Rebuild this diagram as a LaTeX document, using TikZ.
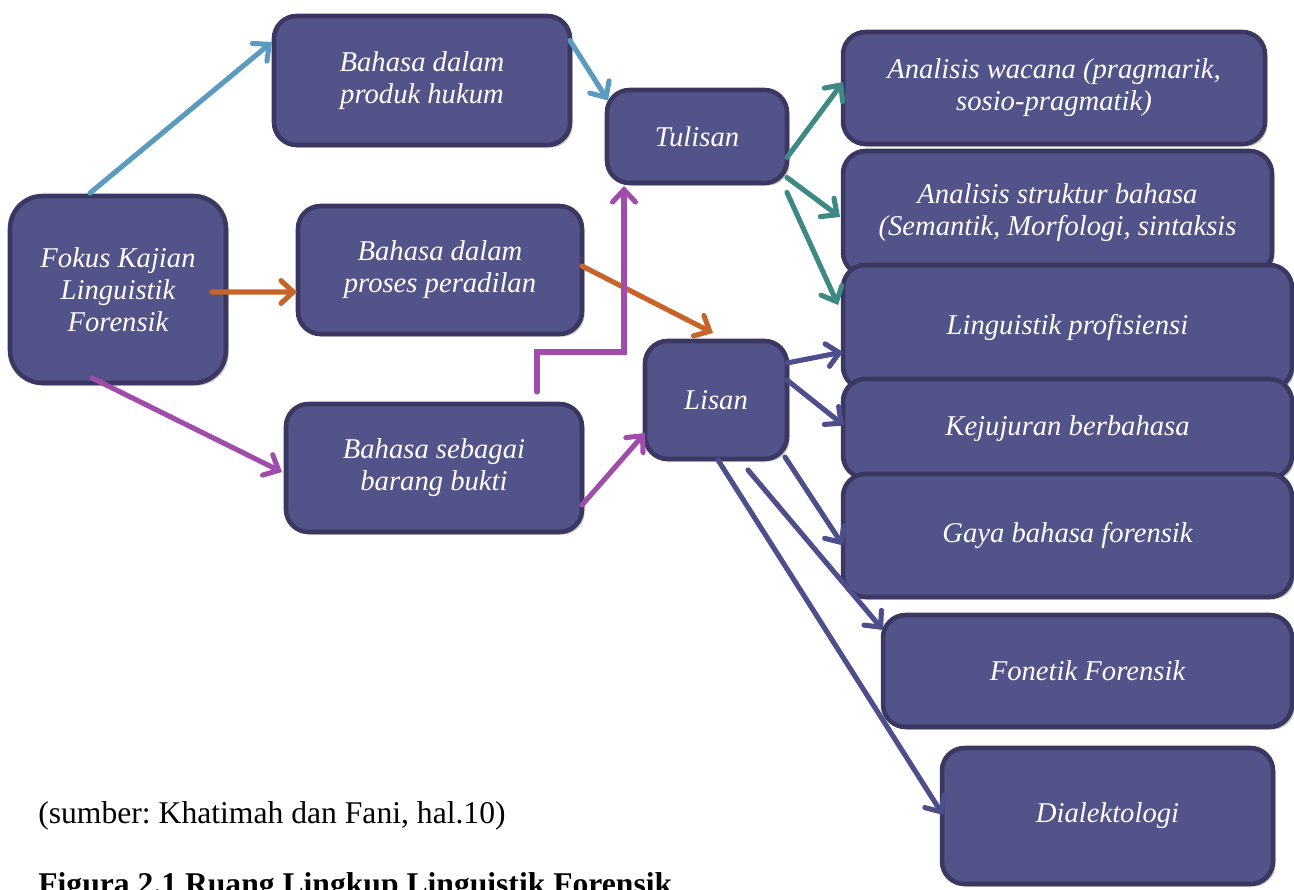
\documentclass[tikz,border=0pt]{standalone}
\usepackage{fontspec}
\setmainfont{Liberation Serif}
\usetikzlibrary{arrows.meta,calc,shadows}
\frenchspacing
\definecolor{boxfill}{RGB}{82,83,136}
\definecolor{boxdraw}{RGB}{58,56,98}
\definecolor{cblue}{RGB}{91,155,192}
\definecolor{corange}{RGB}{200,100,42}
\definecolor{cpurple}{RGB}{160,76,170}
\definecolor{cteal}{RGB}{62,137,133}
\definecolor{cnavy}{RGB}{78,78,140}
\tikzset{
  box/.style={draw=boxdraw, fill=boxfill, line width=2.6pt, rounded corners=0.45cm,
    inner sep=0pt, outer sep=0pt, align=center, text=white,
    font=\itshape\fontsize{16.3}{18.3}\selectfont,
    drop shadow={shadow xshift=1.5pt, shadow yshift=-1.5pt, opacity=0.25, fill=black}},
  conn/.style={line width=2.9pt, line cap=round,
    -{Straight Barb[length=7pt,width=13pt,line cap=round]}},
  bluearrow/.style={conn, draw=cblue},
  orangearrow/.style={conn, draw=corange},
  purplearrow/.style={conn, draw=cpurple},
  tealarrow/.style={conn, draw=cteal},
  navyarrow/.style={conn, draw=cnavy},
}
\begin{document}
\begin{tikzpicture}[x=0.02cm,y=-0.02cm]
\useasboundingbox (0,0) rectangle (1294,889);
\clip (0,0) rectangle (1294,889);
% boxes
\node[box, rounded corners=0.65cm, minimum width=4.32cm, minimum height=3.74cm] (fokus) at (118,289.5) {Fokus Kajian\\Linguistik\\Forensik};
\node[box, minimum width=5.92cm, minimum height=2.58cm] (produk) at (422,80.5) {Bahasa dalam\\produk hukum};
\node[box, minimum width=5.68cm, minimum height=2.56cm] (peradilan) at (440,270) {Bahasa dalam\\proses peradilan};
\node[box, minimum width=5.92cm, minimum height=2.56cm] (bukti) at (434,468) {Bahasa sebagai\\barang bukti};
\node[box, minimum width=3.6cm, minimum height=1.86cm] (tulisan) at (697,136.5) {Tulisan};
\node[box, minimum width=2.84cm, minimum height=2.36cm] (lisan) at (716,400) {Lisan};
\node[box, minimum width=8.44cm, minimum height=2.24cm] (wacana) at (1054,88) {Analisis wacana (pragmarik,\\sosio-pragmatik)};
\node[box, minimum width=8.58cm, minimum height=2.48cm] (struktur) at (1057.5,213) {Analisis struktur bahasa\\(Semantik, Morfologi, sintaksis};
\node[box, minimum width=8.98cm, minimum height=2.48cm] (profisiensi) at (1067.5,327) {Linguistik profisiensi};
\node[box, minimum width=8.98cm, minimum height=1.98cm] (kejujuran) at (1067.5,428.5) {Kejujuran berbahasa};
\node[box, minimum width=8.98cm, minimum height=2.46cm] (gaya) at (1067.5,535.5) {Gaya bahasa forensik};
\node[box, minimum width=8.18cm, minimum height=2.24cm] (fonetik) at (1087.5,671) {Fonetik Forensik};
\node[box, minimum width=6.62cm, minimum height=2.72cm] (dialek) at (1107.5,816) {Dialektologi};
% connectors
\draw[bluearrow] ($(fokus.north)+(-28,-3)$) -- ($(produk.west)+(-2,-38.5)$);
\draw[bluearrow] ($(produk.east)+(0,-40)$) -- ($(tulisan.west)+(1,-36)$);
\draw[orangearrow] ($(fokus.east)+(-14,2.5)$) -- ($(peradilan.west)+(-1,22)$);
\draw[orangearrow] ($(peradilan.east)+(0,-4)$) -- ($(lisan.north)+(-3,-8)$);
\draw[purplearrow] ($(fokus.south)+(-26,-5)$) -- ($(bukti.west)+(-4,4)$);
\draw[purplearrow] ($(bukti.north)+(103,-12)$) -- ++(0,-40) -| ($(tulisan.south)+(-73,3)$);
\draw[purplearrow] ($(bukti.east)+(0,37)$) -- ($(lisan.west)+(0,33)$);
\draw[tealarrow] ($(tulisan.east)+(0,21)$) -- ($(wacana.west)+(0,-6)$);
\draw[tealarrow] ($(tulisan.east)+(0,41)$) -- ($(struktur.west)+(-3,4)$);
\draw[tealarrow] ($(tulisan.east)+(0,56)$) -- ($(profisiensi.west)+(-5,-22)$);
\draw[navyarrow] ($(lisan.east)+(0,-37)$) -- ($(profisiensi.west)+(0,25)$);
\draw[navyarrow] ($(lisan.east)+(0,-20)$) -- ($(kejujuran.west)+(1,-3)$);
\draw[navyarrow] ($(lisan.south east)+(-2,-2)$) -- ($(gaya.west)+(0,10)$);
\draw[navyarrow] ($(lisan.south)+(32,11)$) -- ($(fonetik.west)+(0,-41)$);
\draw[navyarrow] ($(lisan.south)+(2,1)$) -- ($(dialek.west)+(1,-1)$);
% captions
\node[anchor=base west, inner sep=0pt, font=\fontsize{18}{21}\selectfont] (src) at (38,823) {(sumber: Khatimah dan Fani, hal.10)};
\node[anchor=base west, inner sep=0pt, font=\bfseries\fontsize{18}{21}\selectfont] (cap) at (38,894) {Figura 2.1 Ruang Lingkup Linguistik Forensik};
\end{tikzpicture}
\end{document}
